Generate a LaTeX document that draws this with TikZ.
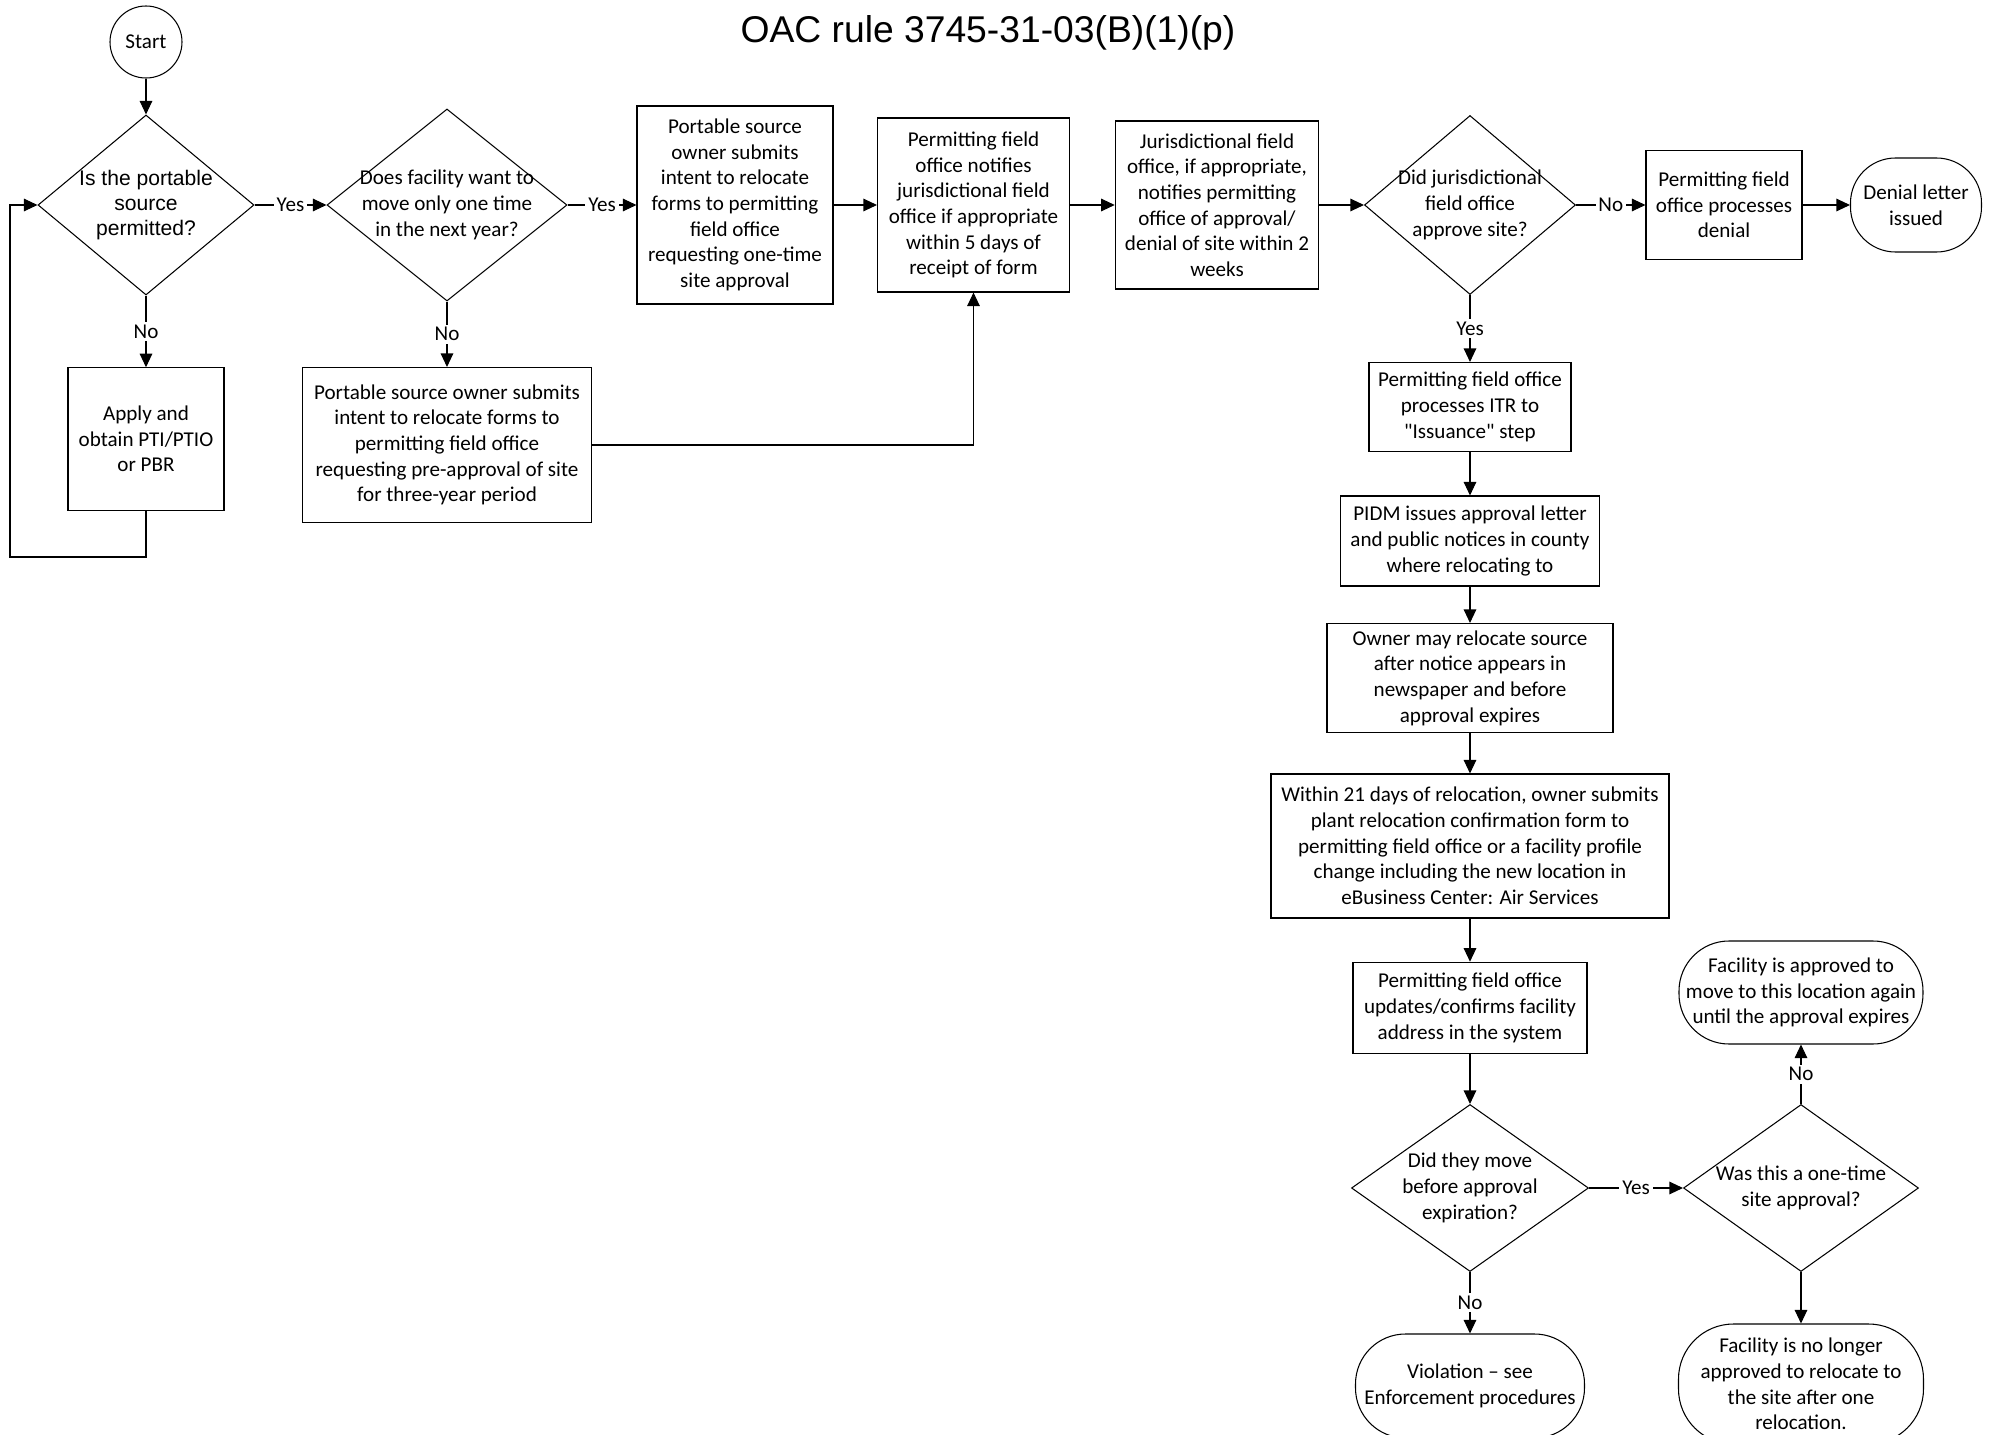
\documentclass[tikz,border=0pt]{standalone}
\usepackage{fontspec}
\setmainfont{Carlito}[Ligatures=TeXOff]
\newfontfamily\arialfont{Liberation Sans}
\usetikzlibrary{shapes.geometric,arrows.meta}

\begin{document}
\begin{tikzpicture}[x=1mm,y=-1mm,line width=0.3pt,
  font=\fontsize{6}{7.3}\selectfont,
  proc/.style={draw,align=center,inner sep=1pt},
  term/.style={draw,rounded corners=#1,align=center,inner sep=1pt},
  term/.default=4.5mm,
  decide/.style={draw,diamond,inner sep=0pt},
  dtext/.style={align=center,inner sep=0pt},
  flow/.style={-{Triangle[length=1.35mm,width=1.25mm]}},
  ans/.style={fill=white,inner sep=0.8pt}]
 \useasboundingbox (0,0) rectangle (199.4,143.5);
 \node[font=\arialfont\fontsize{10.6}{12}\selectfont,anchor=base] (title) at (98.8,4.2) {OAC rule 3745-31-03(B)(1)(p)};
 \node[draw,circle,minimum size=7.2mm,inner sep=0pt] (start) at (14.6,4.2) {Start};
 \node[decide,minimum width=21.6mm,minimum height=18mm,
   label={[dtext,font=\arialfont\fontsize{6}{7.2}\selectfont]center:Is the portable\\source\\permitted?}] (q1) at (14.6,20.5) {};
 \node[decide,minimum width=24mm,minimum height=19.2mm,
   label={[dtext]center:Does facility want to\\move only one time\\in the next year?}] (q2) at (44.7,20.5) {};
 \node[proc,minimum width=19.6mm,minimum height=19.8mm] (oneform) at (73.5,20.5)
   {Portable source\\owner submits\\intent to relocate\\forms to permitting\\field office\\requesting one-time\\site approval};
 \node[proc,minimum width=19.2mm,minimum height=17.4mm] (notify) at (97.35,20.5)
   {Permitting field\\office notifies\\jurisdictional field\\office if appropriate\\within 5 days of\\receipt of form};
 \node[proc,minimum width=20.35mm,minimum height=16.8mm] (juris) at (121.7,20.5)
   {Jurisdictional field\\office, if appropriate,\\notifies permitting\\office of approval/\\denial of site within 2\\weeks};
 \node[decide,minimum width=21.1mm,minimum height=17.9mm,
   label={[dtext]center:Did jurisdictional\\field office\\approve site?}] (q6) at (147,20.5) {};
 \node[proc,minimum width=15.6mm,minimum height=10.9mm] (denial) at (172.4,20.5)
   {Permitting field\\office processes\\denial};
 \node[term,minimum width=13.1mm,minimum height=9.4mm] (letter) at (191.6,20.5)
   {Denial letter\\issued};
 \node[proc,minimum width=15.6mm,minimum height=14.25mm] (apply) at (14.6,43.9)
   {Apply and\\obtain PTI/PTIO\\or PBR};
 \node[proc,minimum width=28.9mm,minimum height=15.5mm] (three) at (44.7,44.5)
   {Portable source owner submits\\intent to relocate forms to\\permitting field office\\requesting pre-approval of site\\for three-year period};
 \coordinate (loop) at (1,55.7);
 \node[proc,minimum width=20.2mm,minimum height=8.9mm] (itr) at (147,40.7)
   {Permitting field office\\processes ITR to\\"Issuance" step};
 \node[proc,minimum width=25.9mm,minimum height=9mm] (pidm) at (147,54.1)
   {PIDM issues approval letter\\and public notices in county\\where relocating to};
 \node[proc,minimum width=28.6mm,minimum height=10.9mm] (owner) at (147,67.8)
   {Owner may relocate source\\after notice appears in\\newspaper and before\\approval expires};
 \node[proc,minimum width=39.8mm,minimum height=14.4mm] (within) at (147,84.6)
   {Within 21 days of relocation, owner submits\\plant relocation confirmation form to\\permitting field office or a facility profile\\change including the new location in\\eBusiness Center: Air Services};
 \node[proc,minimum width=23.4mm,minimum height=9.15mm] (update) at (147,100.8)
   {Permitting field office\\updates/confirms facility\\address in the system};
 \node[decide,minimum width=23.7mm,minimum height=16.7mm,
   label={[dtext]center:Did they move\\before approval\\expiration?}] (q9) at (147,118.8) {};
 \node[decide,minimum width=23.5mm,minimum height=16.7mm,
   label={[dtext]center:Was this a one-time\\site approval?}] (q10) at (180.1,118.8) {};
 \node[term=5mm,minimum width=24.4mm,minimum height=10.3mm] (again) at (180.1,99.25)
   {Facility is approved to\\move to this location again\\until the approval expires};
 \node[term=5mm,minimum width=22.9mm,minimum height=10.4mm] (viol) at (147,138.6)
   {Violation – see\\Enforcement procedures};
 \node[term=5.5mm,minimum width=24.5mm,minimum height=12mm] (nolonger) at (180.1,138.4)
   {Facility is no longer\\approved to relocate to\\the site after one\\relocation.};
 \draw[flow] (start) -- (q1);
 \draw[flow] (q1) -- node[ans]{Yes} (q2);
 \draw[flow] (q2) -- node[ans]{Yes} (oneform);
 \draw[flow] (oneform) -- (notify);
 \draw[flow] (notify) -- (juris);
 \draw[flow] (juris) -- (q6);
 \draw[flow] (q6) -- node[ans]{No} (denial);
 \draw[flow] (denial) -- (letter);
 \draw[flow] (q1) -- node[ans]{No} (apply);
 \draw[flow] (apply.south) |- (loop) |- (q1.west);
 \draw[flow] (q2) -- node[ans]{No} (three);
 \draw[flow] (three.east) -| (notify.south);
 \draw[flow] (q6) -- node[ans]{Yes} (itr);
 \draw[flow] (itr) -- (pidm);
 \draw[flow] (pidm) -- (owner);
 \draw[flow] (owner) -- (within);
 \draw[flow] (within) -- (update);
 \draw[flow] (update) -- (q9);
 \draw[flow] (q9) -- node[ans]{Yes} (q10);
 \draw[flow] (q9) -- node[ans]{No} (viol);
 \draw[flow] (q10) -- node[ans]{No} (again);
 \draw[flow] (q10) -- (nolonger);
\end{tikzpicture}
\end{document}
